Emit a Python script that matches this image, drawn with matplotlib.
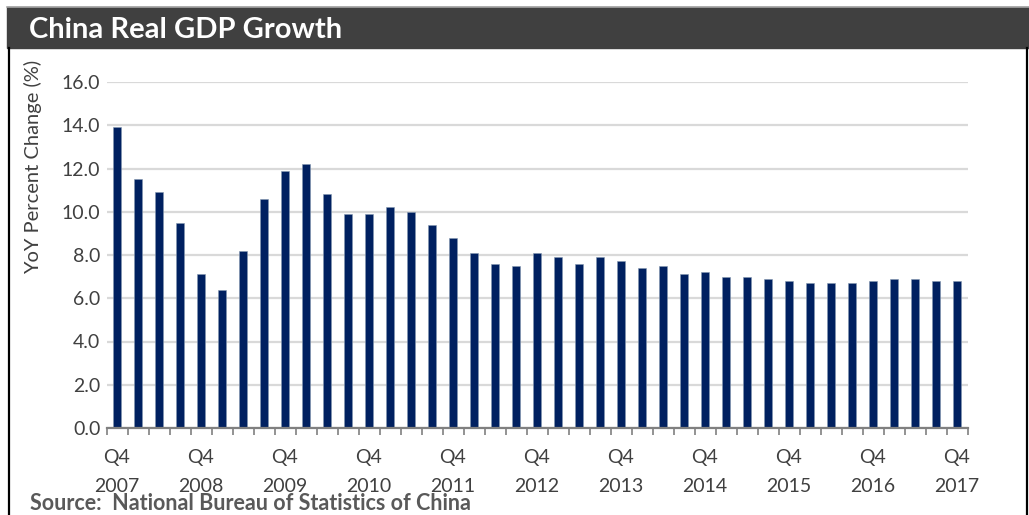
import matplotlib
matplotlib.use("Agg")
import matplotlib.pyplot as plt
from matplotlib.patches import Rectangle
from matplotlib.lines import Line2D
from matplotlib.ticker import FixedLocator, FormatStrFormatter

plt.rcParams["font.family"] = ["Lato", "DejaVu Sans"]

TITLE = "China Real GDP Growth"
Y_LABEL = "YoY Percent Change (%)"
SOURCE = "Source:  National Bureau of Statistics of China"

# quarterly, Q4 2007 .. Q4 2017
QUARTERS = [f"Q{q} {y}" for y in range(2007, 2018) for q in (1, 2, 3, 4)][3:]
GROWTH = [
    13.9, 11.5, 10.9, 9.5, 7.1, 6.4, 8.2, 10.6, 11.9, 12.2, 10.8, 9.9,
    9.9, 10.2, 10.0, 9.4, 8.8, 8.1, 7.6, 7.5, 8.1, 7.9, 7.6, 7.9,
    7.7, 7.4, 7.5, 7.1, 7.2, 7.0, 7.0, 6.9, 6.8, 6.7, 6.7, 6.7,
    6.8, 6.9, 6.9, 6.8, 6.8,
]
Y_TICKS = [0, 2, 4, 6, 8, 10, 12, 14, 16]

BAR_COLOR = "#002060"
TEXT_COLOR = "#404040"
GRID_COLOR = "#d9d9d9"

W, H = 1029, 515
fig = plt.figure(figsize=(W / 100, H / 100), dpi=100)

# title bar and frame
fig.patches.append(Rectangle((7 / W, 1 - 48 / H), 1 - 7 / W, 41 / H,
                             transform=fig.transFigure, color="#404040", zorder=0))
fig.lines.append(Line2D([7 / W, 1], [1 - 7 / H, 1 - 7 / H], transform=fig.transFigure,
                        color="#a6a6a6", lw=1.2))
fig.lines.append(Line2D([8.5 / W, 8.5 / W], [0, 1 - 48 / H], transform=fig.transFigure,
                        color="black", lw=1.6))
fig.lines.append(Line2D([1026.5 / W, 1026.5 / W], [0, 1 - 48 / H], transform=fig.transFigure,
                        color="black", lw=1.6))
fig.text(29 / W, 1 - 30 / H, TITLE, color="white", fontsize=21, fontweight="bold",
         va="center", ha="left")

ax = fig.add_axes([106.5 / W, (H - 428) / H, 861 / W, 346 / H])
x = list(range(len(GROWTH)))
ax.bar(x, GROWTH, width=0.42, color=BAR_COLOR, edgecolor="#8497b0", linewidth=0.4, zorder=3)

ax.set_xlim(-0.5, len(GROWTH) - 0.5)
ax.set_ylim(0, 16)
ax.set_yticks(Y_TICKS)
ax.yaxis.set_major_formatter(FormatStrFormatter("%.1f"))
ax.grid(axis="y", color=GRID_COLOR, lw=1.6, zorder=0)
ax.set_axisbelow(True)
for s in ("top", "right", "left"):
    ax.spines[s].set_visible(False)
ax.spines["bottom"].set_color("#808080")
ax.spines["bottom"].set_linewidth(1.6)
ax.spines["bottom"].set_zorder(4)

ax.tick_params(axis="y", length=0, pad=4.5, labelsize=14, labelcolor=TEXT_COLOR)

major = [i for i, q in enumerate(QUARTERS) if q.startswith("Q4")]
ax.set_xticks(major)
ax.set_xticklabels([q.replace(" ", "\n") for i, q in enumerate(QUARTERS) if i in major],
                   linespacing=1.9)
ax.tick_params(axis="x", which="major", length=0, pad=15, labelsize=14, labelcolor=TEXT_COLOR)
ax.xaxis.set_minor_locator(FixedLocator([i - 0.5 for i in range(len(GROWTH) + 1)]))
ax.tick_params(axis="x", which="minor", length=5, width=1.2, color="#808080", direction="out")

fig.text(33 / W, 1 - 167 / H, Y_LABEL, rotation=90, fontsize=14.5, color=TEXT_COLOR,
         ha="center", va="center")
fig.text(30 / W, 1 - 504 / H, SOURCE, fontsize=15.5, fontweight="bold", color="#595959",
         ha="left", va="center")

fig.savefig("out.png", dpi=100)
